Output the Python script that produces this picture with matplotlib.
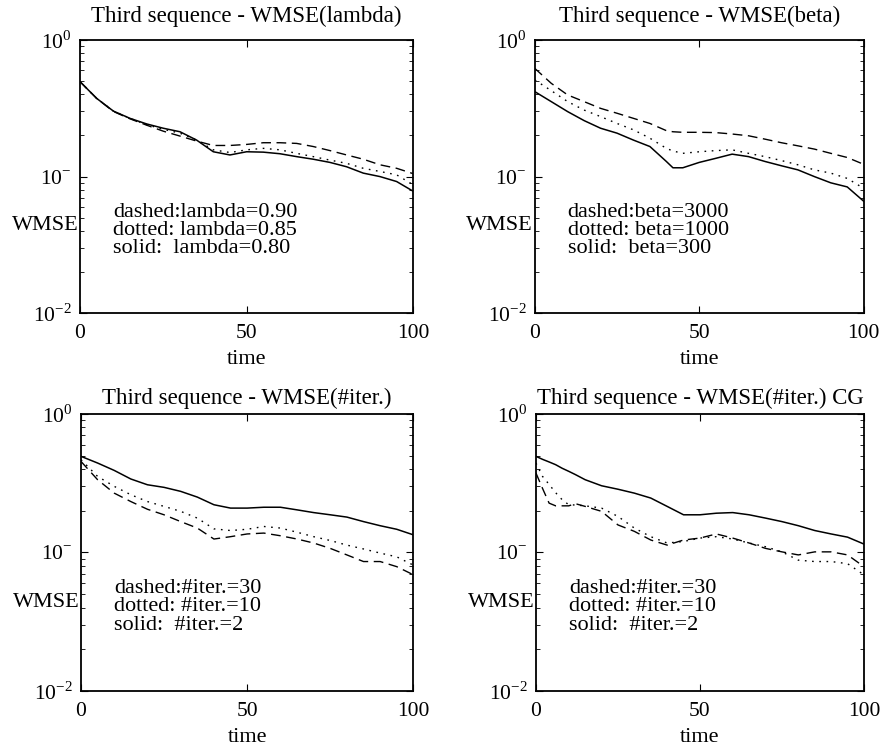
import matplotlib
matplotlib.use('Agg')
import matplotlib.pyplot as plt

plt.rcParams['font.family'] = ['Liberation Serif', 'DejaVu Serif']
plt.rcParams['mathtext.fontset'] = 'custom'
plt.rcParams['mathtext.rm'] = 'Liberation Serif'
plt.rcParams['font.size'] = 14

t = list(range(0, 101, 5))

# panel 1: lambda
lam_solid = [0.496, 0.374, 0.302, 0.267, 0.243, 0.226, 0.213, 0.185, 0.152, 0.144, 0.152,
             0.151, 0.147, 0.140, 0.134, 0.127, 0.118, 0.106, 0.100, 0.092, 0.078]
lam_dotted = [0.496, 0.374, 0.302, 0.267, 0.240, 0.222, 0.208, 0.185, 0.157, 0.150, 0.157,
              0.161, 0.157, 0.148, 0.140, 0.132, 0.125, 0.115, 0.109, 0.103, 0.087]
lam_dashed = [0.496, 0.374, 0.300, 0.265, 0.238, 0.215, 0.198, 0.182, 0.169, 0.169, 0.172,
              0.177, 0.177, 0.175, 0.166, 0.155, 0.144, 0.134, 0.122, 0.115, 0.105]

# panel 2: beta
t_beta = [0, 5, 10, 15, 20, 25, 30, 35, 40, 42, 45, 50, 55, 60, 65, 70, 75, 80, 85, 90, 95, 100]
beta_solid = [0.419, 0.354, 0.299, 0.257, 0.226, 0.208, 0.185, 0.166, 0.129, 0.116, 0.116,
              0.127, 0.136, 0.146, 0.140, 0.129, 0.120, 0.112, 0.100, 0.090, 0.084, 0.066]
beta_dotted = [0.510, 0.426, 0.354, 0.307, 0.275, 0.245, 0.220, 0.191, 0.161, 0.154, 0.148,
               0.152, 0.155, 0.157, 0.148, 0.140, 0.131, 0.122, 0.112, 0.106, 0.097, 0.082]
beta_dashed = [0.620, 0.482, 0.396, 0.354, 0.316, 0.291, 0.267, 0.245, 0.217, 0.213, 0.211,
               0.211, 0.210, 0.205, 0.199, 0.188, 0.177, 0.168, 0.159, 0.148, 0.138, 0.123]

# panel 3: #iter.
it_solid = [0.494, 0.442, 0.391, 0.339, 0.308, 0.295, 0.276, 0.251, 0.221, 0.209, 0.209,
            0.212, 0.212, 0.203, 0.194, 0.187, 0.180, 0.167, 0.156, 0.147, 0.134]
it_dotted = [0.467, 0.354, 0.300, 0.261, 0.233, 0.215, 0.198, 0.177, 0.148, 0.144, 0.147,
             0.154, 0.150, 0.140, 0.130, 0.122, 0.113, 0.106, 0.099, 0.093, 0.081]
it_dashed = [0.454, 0.335, 0.268, 0.233, 0.205, 0.187, 0.167, 0.150, 0.125, 0.130, 0.136,
             0.138, 0.132, 0.125, 0.117, 0.107, 0.096, 0.086, 0.086, 0.079, 0.069]

# panel 4: #iter. CG
t_cg = [0, 2, 4, 6, 8, 10, 12, 15, 20, 25, 30, 35, 40, 45, 50, 55, 60, 65, 70, 75, 80, 85,
        90, 95, 100]
cg_solid = [0.494, 0.470, 0.450, 0.430, 0.405, 0.385, 0.365, 0.335, 0.303, 0.286, 0.268,
            0.247, 0.215, 0.187, 0.187, 0.192, 0.194, 0.187, 0.177, 0.167, 0.156, 0.144,
            0.136, 0.129, 0.115]
cg_dotted = [0.442, 0.354, 0.310, 0.270, 0.240, 0.221, 0.220, 0.217, 0.209, 0.182, 0.150,
             0.130, 0.117, 0.120, 0.127, 0.130, 0.125, 0.117, 0.110, 0.101, 0.088, 0.086,
             0.086, 0.083, 0.069]
cg_dashed = [0.374, 0.290, 0.227, 0.217, 0.217, 0.217, 0.225, 0.215, 0.198, 0.158, 0.142,
             0.123, 0.113, 0.123, 0.127, 0.136, 0.127, 0.117, 0.107, 0.101, 0.096, 0.101,
             0.101, 0.096, 0.079]

panels = [
    ('Third sequence - WMSE(lambda)', t, lam_dashed, lam_dotted, lam_solid,
     'dashed:lambda=0.90\ndotted: lambda=0.85\nsolid:  lambda=0.80'),
    ('Third sequence - WMSE(beta)', t_beta, beta_dashed, beta_dotted, beta_solid,
     'dashed:beta=3000\ndotted: beta=1000\nsolid:  beta=300'),
    ('Third sequence - WMSE(#iter.)', t, it_dashed, it_dotted, it_solid,
     'dashed:#iter.=30\ndotted: #iter.=10\nsolid:  #iter.=2'),
    ('Third sequence - WMSE(#iter.) CG', t_cg, cg_dashed, cg_dotted, cg_solid,
     'dashed:#iter.=30\ndotted: #iter.=10\nsolid:  #iter.=2'),
]

rects = [
    [0.0905, 0.582, 0.377, 0.3645],
    [0.605, 0.582, 0.372, 0.3645],
    [0.0916, 0.0774, 0.376, 0.370],
    [0.6063, 0.0774, 0.371, 0.370],
]
title_pads = [13, 13, 7, 7]

fig = plt.figure(figsize=(8.84, 7.49), dpi=100)

for rect, tpad, (title, x, dashed, dotted, solid, note) in zip(rects, title_pads, panels):
    ax = fig.add_axes(rect)
    ax.plot(x, dashed, color='black', lw=1.0, linestyle=(0, (7, 4)))
    ax.plot(x, dotted, color='black', lw=1.0, linestyle=(0, (1.2, 4)))
    ax.plot(x, solid, color='black', lw=1.1)
    ax.set_yscale('log')
    ax.set_ylim(0.01, 1)
    ax.set_xlim(0, 100)
    ax.set_xticks([0, 50, 100])
    ax.set_xticklabels(['0', '50', '100'], fontsize=15.5)
    ax.set_yticks([0.01, 0.1, 1])
    ax.set_yticklabels(['$10^{-2}$', '$10^{-}$', '$10^{0}$'], fontsize=15.5)
    ax.tick_params(which='both', direction='in', top=True, right=True)
    ax.tick_params(which='major', length=5, width=0.8)
    ax.tick_params(which='minor', length=3, width=0.6)
    ax.tick_params(axis='x', pad=8)
    ax.tick_params(axis='y', pad=6)
    for s in ax.spines.values():
        s.set_linewidth(1.3)
    ax.set_title(title, fontsize=16.5, pad=tpad)
    ax.set_xlabel('time', fontsize=16, labelpad=5)
    ax.set_ylabel('WMSE', fontsize=16, rotation=0, ha='right', va='center', labelpad=2)
    ax.yaxis.set_label_coords(-0.005, 0.32)
    ax.text(0.10, 0.405, note, transform=ax.transAxes, fontsize=16, va='top', ha='left',
            linespacing=0.96)

fig.savefig('out.png', dpi=100)
